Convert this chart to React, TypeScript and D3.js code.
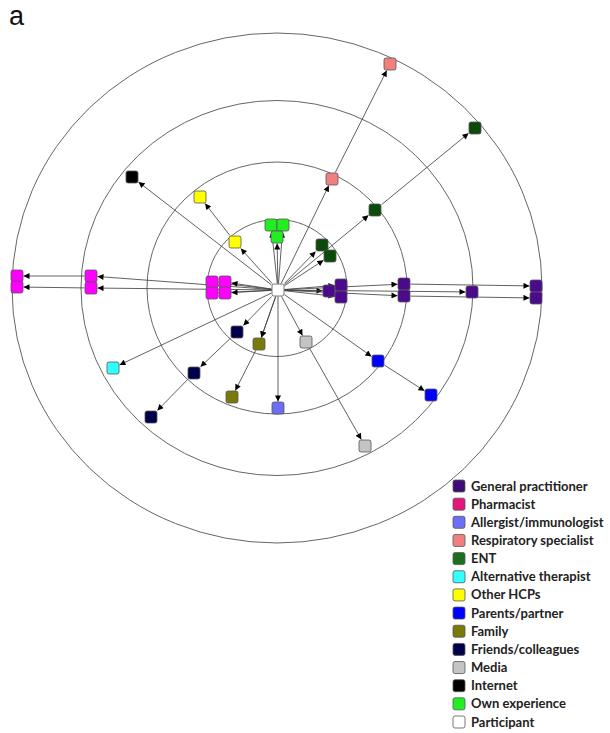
import React from "react";
import * as d3 from "d3";

// Categories (legend order)
const categories = [
  "General practitioner",
  "Pharmacist",
  "Allergist/immunologist",
  "Respiratory specialist",
  "ENT",
  "Alternative therapist",
  "Other HCPs",
  "Parents/partner",
  "Family",
  "Friends/colleagues",
  "Media",
  "Internet",
  "Own experience",
  "Participant",
];
const legendColors = [
  "#3f0a73", "#e3167c", "#6e6ef5", "#f08080", "#1d6e1d", "#33ffff", "#ffff00",
  "#0000ff", "#7a7a0a", "#00004a", "#c4c4c4", "#000000", "#22ee22", "#ffffff",
];
const nodeColors = [
  "#4b0a8c", "#ff00ff", "#6e6ef5", "#f08080", "#0b4a0b", "#33ffff", "#ffff00",
  "#0000ff", "#7a7a0a", "#00004a", "#c4c4c4", "#000000", "#22ee22", "#ffffff",
];

// Concentric ring radii (horizontal / vertical), in picture units
const ringRx = [70, 130, 196, 265];
const ringRy = [68.5, 126, 187.5, 255];

// Nodes: id, category index, offset from the ego centre (dx, dy)
const nodeIds = [
  "P",
  "gp1", "gp2", "gp3", "gp4", "gp5", "gp6", "gp7", "gp8",
  "ph1", "ph2", "ph3", "ph4", "ph5", "ph6", "ph7", "ph8",
  "al1",
  "rs1", "rs2",
  "en1", "en2", "en3", "en4",
  "at1",
  "oh1", "oh2",
  "pp1", "pp2",
  "fa1", "fa2",
  "fr1", "fr2", "fr3",
  "me1", "me2",
  "in1",
  "ow1", "ow2", "ow3",
];
const nodeCats = [
  13,
  0, 0, 0, 0, 0, 0, 0, 0,
  1, 1, 1, 1, 1, 1, 1, 1,
  2,
  3, 3,
  4, 4, 4, 4,
  5,
  6, 6,
  7, 7,
  8, 8,
  9, 9, 9,
  10, 10,
  11,
  12, 12, 12,
];
const nodeDx = [
  1,
  52, 64, 64, 127, 127, 195, 259, 259,
  -65, -65, -52, -52, -186, -186, -260, -260,
  1,
  55, 113,
  45, 53, 98, 198,
  -164,
  -42, -77,
  101, 154,
  -18, -45,
  -40, -83, -126,
  29, 88,
  -145,
  -6, 6, 0,
];
const nodeDy = [
  2,
  3, -3, 9, -4, 8, 4, -2, 10,
  -6, 5, -6, 5, -12, 0, -12, -1,
  120,
  -109, -224,
  -43, -32, -78, -160,
  80,
  -46, -91,
  73, 107,
  56, 109,
  44, 85, 129,
  54, 158,
  -111,
  -63, -63, -51,
];

// Directed ties (source -> target)
const edgeSources = [
  "P", "P", "P", "P", "P", "P", "gp4", "gp5",
  "P", "P", "P", "P", "P", "P", "ph5", "ph6",
  "P",
  "P", "rs1",
  "P", "P", "P", "en3",
  "P",
  "P", "oh1",
  "P", "pp1",
  "P", "P", "fa1",
  "P", "fr1", "fr2",
  "P", "me1",
  "P",
  "P", "P", "P",
];
const edgeTargets = [
  "gp1", "gp2", "gp3", "gp4", "gp5", "gp6", "gp7", "gp8",
  "ph1", "ph2", "ph3", "ph4", "ph5", "ph6", "ph7", "ph8",
  "al1",
  "rs1", "rs2",
  "en1", "en2", "en3", "en4",
  "at1",
  "oh1", "oh2",
  "pp1", "pp2",
  "fa1", "fa1", "fa2",
  "fr1", "fr2", "fr3",
  "me1", "me2",
  "in1",
  "ow1", "ow2", "ow3",
];

const W = 610;
const H = 733;
const CX = 277;
const CY = 288;
const NODE = 12;

export default function App() {
  const x = d3.scaleLinear().domain([-CX, W - CX]).range([0, W]);
  const y = d3.scaleLinear().domain([-CY, H - CY]).range([0, H]);

  const nodes = nodeIds.map((id, i) => ({
    id,
    cat: nodeCats[i],
    x: x(nodeDx[i]),
    y: y(nodeDy[i]),
  }));
  const byId = new Map(nodes.map((n) => [n.id, n]));
  const half = NODE / 2 + 0.5;

  const edges = edgeSources.map((s, i) => {
    const a = byId.get(s)!;
    const b = byId.get(edgeTargets[i])!;
    const dx = b.x - a.x;
    const dy = b.y - a.y;
    const m = Math.max(Math.abs(dx), Math.abs(dy)) || 1;
    const k = half / m;
    return {
      x1: a.x + dx * k,
      y1: a.y + dy * k,
      x2: b.x - dx * k,
      y2: b.y - dy * k,
      key: i,
    };
  });

  const legendY = d3
    .scaleLinear()
    .domain([0, categories.length - 1])
    .range([486, 722]);

  return (
    <svg
      width={W}
      height={H}
      style={{ position: "absolute", left: 0, top: 0, background: "#fff" }}
    >
      <defs>
        <marker
          id="arr"
          viewBox="0 0 10 10"
          refX="10"
          refY="5"
          markerWidth="7"
          markerHeight="6"
          markerUnits="userSpaceOnUse"
          orient="auto"
        >
          <path d="M0,0 L10,5 L0,10 z" fill="#000" />
        </marker>
      </defs>
      <rect width={W} height={H} fill="#fff" />
      <text
        x={9}
        y={25}
        fontFamily="Liberation Sans, Arial, sans-serif"
        fontSize={27}
        fill="#111"
      >
        a
      </text>
      {ringRx.map((r, i) => (
        <ellipse
          key={i}
          cx={x(0)}
          cy={y(0)}
          rx={r}
          ry={ringRy[i]}
          fill="none"
          stroke="#666"
          strokeWidth={1}
        />
      ))}
      {edges.map((e) => (
        <line
          key={e.key}
          x1={e.x1}
          y1={e.y1}
          x2={e.x2}
          y2={e.y2}
          stroke="#444"
          strokeWidth={0.85}
          markerEnd="url(#arr)"
        />
      ))}
      {nodes.map((n) => (
        <rect
          key={n.id}
          x={n.x - NODE / 2}
          y={n.y - NODE / 2}
          width={NODE}
          height={NODE}
          rx={2}
          fill={nodeColors[n.cat]}
          stroke="#555"
          strokeWidth={0.8}
        />
      ))}
      {categories.map((c, i) => (
        <g key={c} transform={`translate(0,${legendY(i)})`}>
          <rect
            x={453}
            y={-6}
            width={12}
            height={12}
            rx={2}
            fill={legendColors[i]}
            stroke="#555"
            strokeWidth={0.8}
          />
          <text
            x={471}
            y={4.5}
            fontFamily="Lato, 'Open Sans', sans-serif"
            fontWeight="bold"
            fontSize={13}
            fill="#222"
          >
            {c}
          </text>
        </g>
      ))}
    </svg>
  );
}
